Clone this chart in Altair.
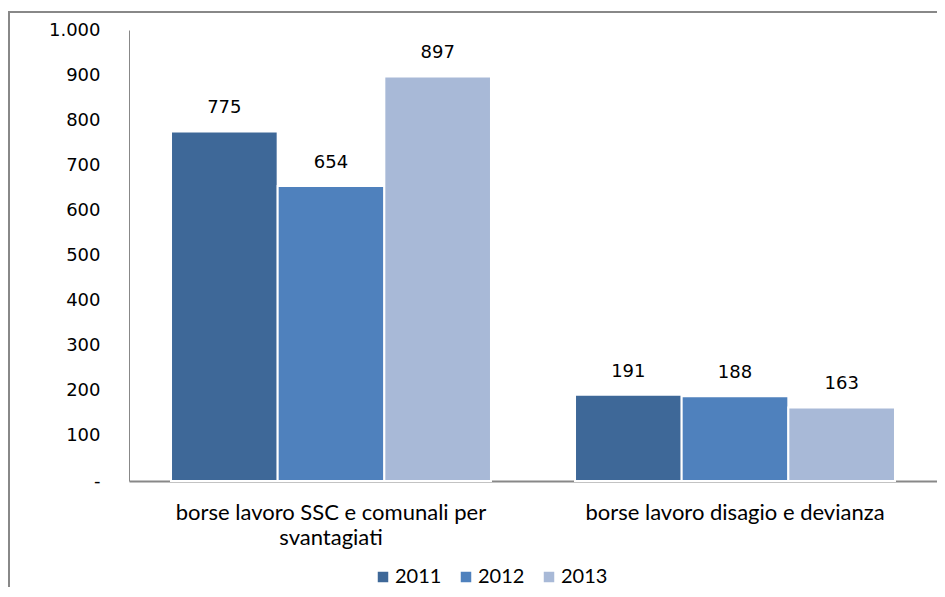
import altair as alt
import pandas as pd

categories = ["borse lavoro SSC e comunali per\nsvantagiati", "borse lavoro disagio e devianza"]
years = ["2011", "2012", "2013"]
values_2011 = [775, 191]
values_2012 = [654, 188]
values_2013 = [897, 163]
colors = ["#3E6898", "#4F81BD", "#A8B9D7"]
y_ticks = [0, 100, 200, 300, 400, 500, 600, 700, 800, 900, 1000]

rows = []
for yr, vals in zip(years, [values_2011, values_2012, values_2013]):
    for c, v in zip(categories, vals):
        rows.append({"category": c, "year": yr, "value": v})
df = pd.DataFrame(rows)

x_enc = alt.X(
    "category:N", sort=categories, title=None,
    scale=alt.Scale(paddingInner=0.208, paddingOuter=0.104),
    axis=alt.Axis(
        labelAngle=0, ticks=False, domainColor="#888888", domainWidth=2,
        labelFont="Lato", labelFontSize=22, labelColor="#000000",
        labelPadding=21, labelLimit=0, labelLineHeight=25,
        labelExpr="split(datum.label, '\\n')",
    ),
)
y_enc = alt.Y(
    "value:Q", title=None,
    scale=alt.Scale(domain=[0, 1000], nice=False),
    axis=alt.Axis(
        values=y_ticks, grid=False, ticks=False, domainColor="#888888",
        labelFont="DejaVu Sans", labelFontSize=18, labelColor="#000000",
        labelPadding=29,
        labelExpr="datum.value == 0 ? '-' : replace(format(datum.value, ','), ',', '.')",
    ),
)

base = alt.Chart(df).encode(
    x=x_enc,
    xOffset=alt.XOffset("year:N", sort=years, scale=alt.Scale(paddingInner=0, paddingOuter=0)),
    y=y_enc,
)

bars = base.mark_bar(stroke="white", strokeWidth=2).encode(
    color=alt.Color(
        "year:N", sort=years,
        scale=alt.Scale(domain=years, range=colors),
        legend=alt.Legend(
            title=None, orient="none", legendX=244, legendY=537,
            direction="horizontal", symbolType="square", symbolSize=110,
            symbolStrokeWidth=0, labelFont="Lato", labelFontSize=20,
            labelColor="#000000", columnPadding=14, labelOffset=2, padding=0,
        ),
    )
)

labels = base.mark_text(
    baseline="alphabetic", dy=-18, font="DejaVu Sans", fontSize=18, color="#000000"
).encode(text=alt.Text("value:Q"))

frame_df = pd.DataFrame({"k": [0]})
top_line = alt.Chart(frame_df).mark_rule(color="#888888", strokeWidth=2).encode(
    x=alt.value(-121), x2=alt.value(820), y=alt.value(-18)
)
left_line = alt.Chart(frame_df).mark_rule(color="#888888", strokeWidth=2).encode(
    x=alt.value(-120), y=alt.value(-18), y2=alt.value(580)
)

chart = alt.layer(bars, labels, top_line, left_line).properties(
    width=808, height=451,
    autosize=alt.AutoSizeParams(type="none"),
    padding={"left": 121, "top": 22, "right": 0, "bottom": 106},
).configure_view(stroke=None)

chart.save("out.html", embed_options={"renderer": "svg", "actions": False})
